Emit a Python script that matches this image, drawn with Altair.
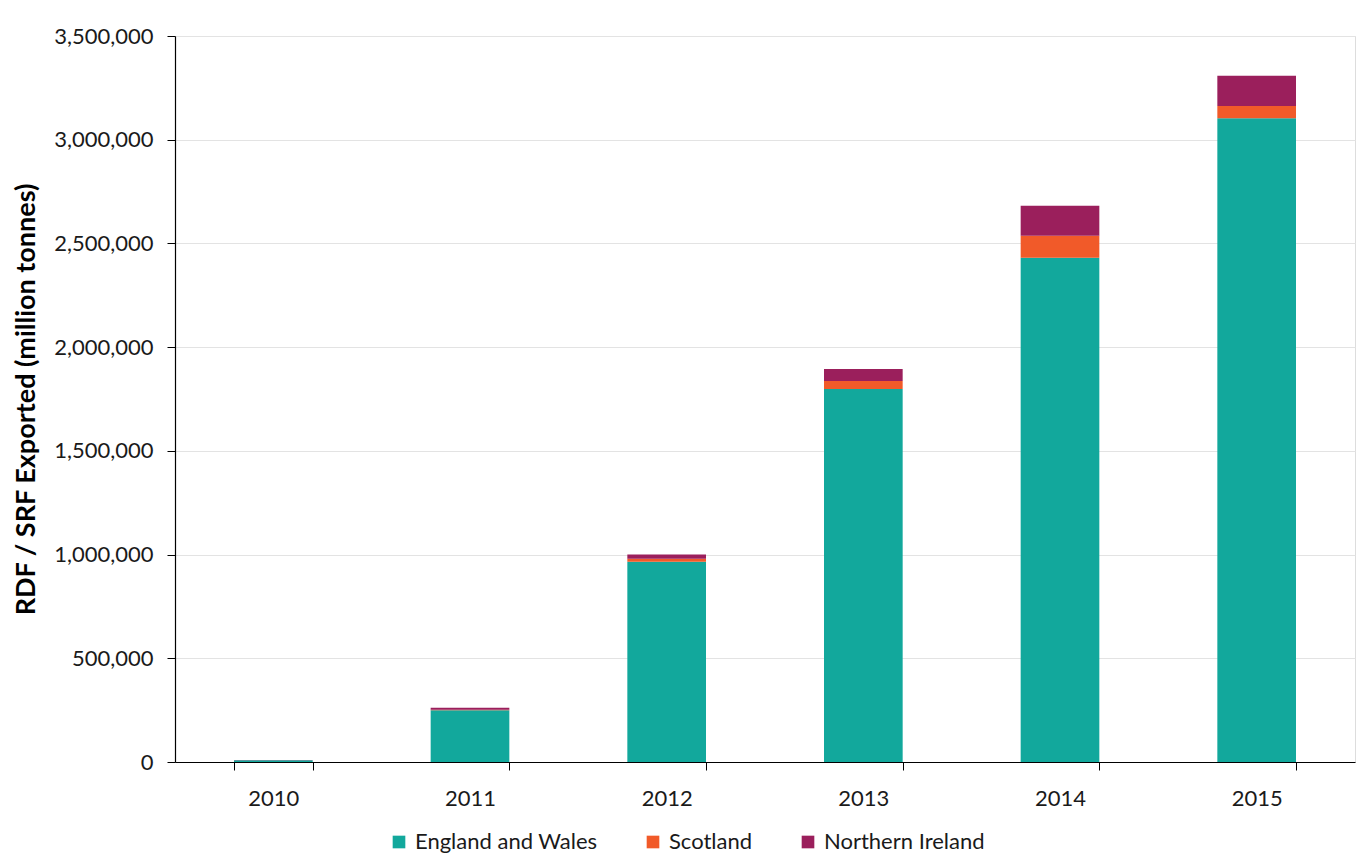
import altair as alt
import pandas as pd

years = ["2010", "2011", "2012", "2013", "2014", "2015"]
england_wales = [9000, 250000, 965000, 1798000, 2431000, 3103000]
scotland = [0, 2000, 15000, 39000, 106000, 59000]
northern_ireland = [1000, 10000, 20000, 58000, 145000, 146000]

series = ["England and Wales", "Scotland", "Northern Ireland"]
colors = ["#12A89C", "#F15A29", "#9B1F5C"]

rows = []
for i, y in enumerate(years):
    for k, (name, vals) in enumerate(zip(series, [england_wales, scotland, northern_ireland])):
        rows.append({"Year": y, "Region": name, "Value": vals[i], "order": k})
df = pd.DataFrame(rows)

FONT = "Lato"

chart = alt.Chart(df).mark_bar().encode(
    x=alt.X("Year:N", sort=years,
            scale=alt.Scale(paddingInner=0.6, paddingOuter=0.3),
            axis=alt.Axis(title=None, labelAngle=0, labelFontSize=22, labelColor="#1a1a1a",
                          labelFont=FONT, domainColor="#000", domainWidth=1.2,
                          tickColor="#000", tickBand="extent", tickSize=8,
                          labelPadding=18, grid=False)),
    y=alt.Y("Value:Q", stack="zero",
            scale=alt.Scale(domain=[0, 3500000], nice=False),
            axis=alt.Axis(title="RDF / SRF Exported (million tonnes)", format=",d",
                          values=[0, 500000, 1000000, 1500000, 2000000, 2500000, 3000000, 3500000],
                          titleFontSize=27, titleFont=FONT, titleFontWeight="bold",
                          titleColor="#000", titlePadding=13,
                          labelFontSize=22, labelFont=FONT, labelColor="#1a1a1a",
                          domainColor="#000", domainWidth=1.2, tickColor="#000",
                          tickSize=8, labelPadding=14,
                          gridColor="#e3e3e3", gridWidth=1)),
    color=alt.Color("Region:N", sort=series,
                    scale=alt.Scale(domain=series, range=colors),
                    legend=alt.Legend(title=None, orient="none", direction="horizontal",
                                      legendX=213, legendY=795,
                                      symbolType="square", symbolSize=160,
                                      symbolStrokeWidth=0, labelLimit=0, labelOffset=5,
                                      labelFontSize=22, labelFont=FONT, labelColor="#1a1a1a",
                                      columnPadding=44)),
    order=alt.Order("order:Q", sort="ascending"),
).properties(
    width=1180, height=726,
    autosize=alt.AutoSizeParams(type="none"),
    padding={"left": 175, "top": 36, "right": 8, "bottom": 102},
).configure_view(stroke=None).configure(background="white")

chart.save("out.html", embed_options={"renderer": "svg", "actions": False})
